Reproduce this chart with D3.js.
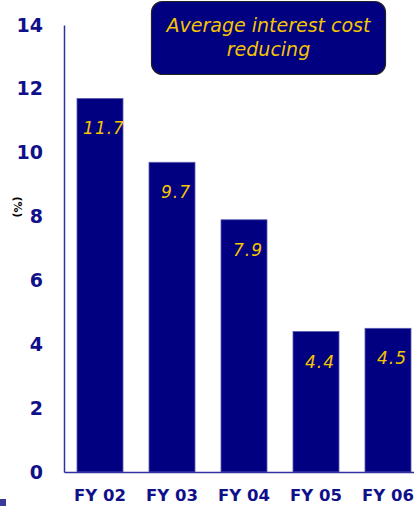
<!DOCTYPE html>
<html>
<head>
<meta charset="utf-8">
<script src="https://cdn.jsdelivr.net/npm/d3@7"></script>
<style>
  html, body { margin: 0; padding: 0; background: #fff; }
  svg { display: block; }
</style>
</head>
<body>
<svg id="chart" width="414" height="506"></svg>
<script>
// Average interest cost by fiscal year (%)
const categories = ["FY 02", "FY 03", "FY 04", "FY 05", "FY 06"];
const values = [11.7, 9.7, 7.9, 4.4, 4.5];
const yTicks = [0, 2, 4, 6, 8, 10, 12, 14];
const titleLines = ["Average interest cost", "reducing"];
const unitLabel = "(%)";

const W = 414, H = 506;
const navy = "#000080";
const gold = "#f5c400";
const font = "'DejaVu Sans', Verdana, sans-serif";

const svg = d3.select("#chart");

const x0 = 64, zeroY = 472, topY = 25;
const y = d3.scaleLinear().domain([0, 14]).range([zeroY, topY]);
const x = d3.scaleBand().domain(categories)
  .range([x0, x0 + 72 * categories.length])
  .paddingInner(26 / 72).paddingOuter(13 / 72);

// bars
svg.append("g").selectAll("rect").data(values).join("rect")
  .attr("x", (d, i) => x(categories[i]))
  .attr("y", d => y(d))
  .attr("width", x.bandwidth())
  .attr("height", d => zeroY - y(d))
  .attr("fill", navy)
  .attr("stroke", "#5a5ab0")
  .attr("stroke-width", 0.8);

// value labels inside bars
svg.append("g").selectAll("text").data(values).join("text")
  .attr("x", (d, i) => x(categories[i]) + x.bandwidth() / 2 + 4)
  .attr("y", d => y(d) + 36)
  .attr("text-anchor", "middle")
  .attr("font-family", font)
  .attr("font-style", "italic")
  .attr("font-size", 17)
  .attr("letter-spacing", 1)
  .attr("fill", gold)
  .text(d => d.toFixed(1));

// y axis
const yAxis = svg.append("g").attr("transform", `translate(${x0},0)`)
  .call(d3.axisLeft(y).tickValues(yTicks).tickSize(0).tickPadding(21).tickFormat(d3.format("d")));
yAxis.select(".domain").attr("stroke", "#3030a0").attr("stroke-width", 1.5);
yAxis.selectAll("text")
  .attr("font-family", font).attr("font-weight", "bold")
  .attr("font-size", 19).attr("fill", "#10108a");

// x axis
const xAxis = svg.append("g").attr("transform", `translate(0,${zeroY})`)
  .call(d3.axisBottom(x).tickSize(0).tickPadding(17));
xAxis.select(".domain").attr("stroke", "#3030a0").attr("stroke-width", 1.5);
xAxis.selectAll("text")
  .attr("font-family", font).attr("font-weight", "bold")
  .attr("font-size", 16.5).attr("fill", "#10108a");

// unit label
svg.append("text")
  .attr("transform", "translate(14,207) rotate(90)")
  .attr("text-anchor", "middle")
  .attr("font-family", font).attr("font-weight", "bold")
  .attr("font-size", 11).attr("fill", "#000")
  .text(unitLabel);

// title box
svg.append("rect")
  .attr("x", 151.5).attr("y", 1.5).attr("width", 234).attr("height", 73)
  .attr("rx", 11).attr("ry", 11)
  .attr("fill", navy).attr("stroke", "#222").attr("stroke-width", 1.2);
svg.append("g").selectAll("text").data(titleLines).join("text")
  .attr("x", 268.5)
  .attr("y", (d, i) => 32 + i * 24)
  .attr("text-anchor", "middle")
  .attr("font-family", font).attr("font-style", "italic")
  .attr("font-size", 19).attr("fill", gold)
  .text(d => d);

// corner marker
svg.append("rect").attr("x", 0).attr("y", 499).attr("width", 6).attr("height", 7).attr("fill", "#3a3a9a");
</script>
</body>
</html>
